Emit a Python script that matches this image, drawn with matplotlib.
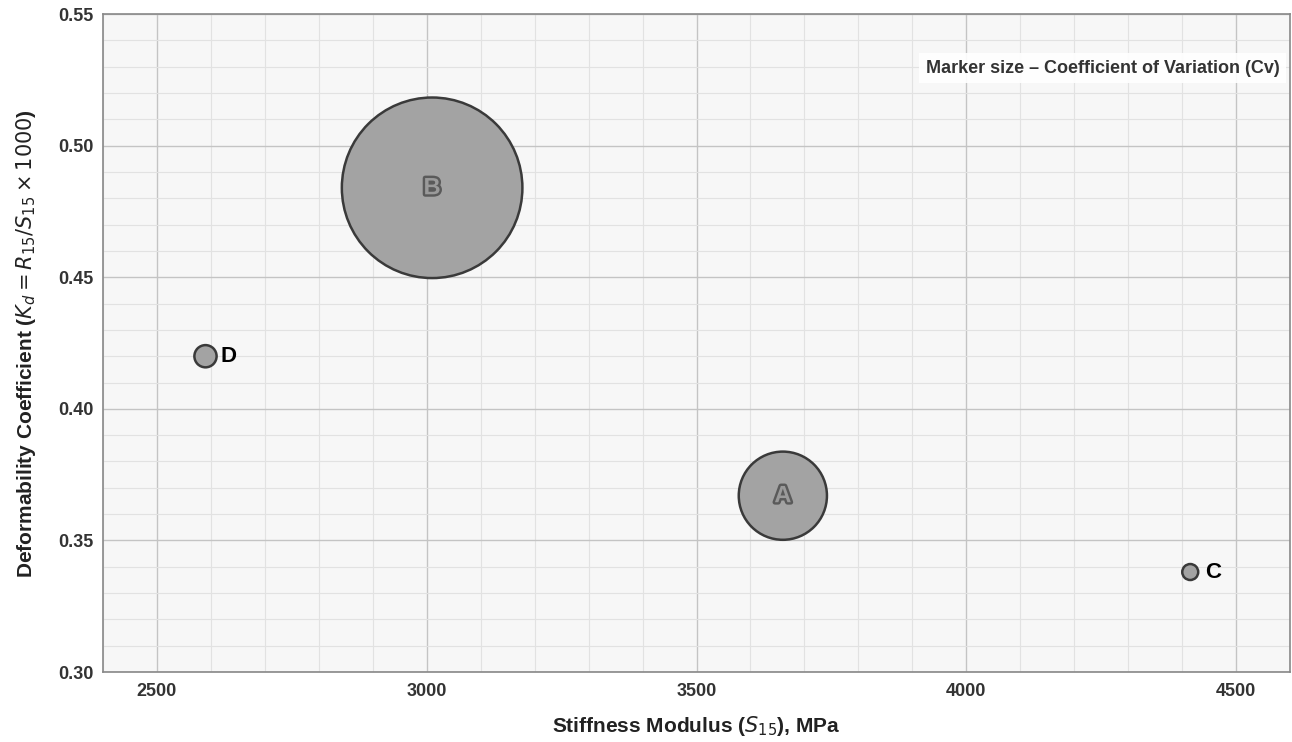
import matplotlib.pyplot as plt
import matplotlib.patheffects as pe
from matplotlib.ticker import MultipleLocator, FormatStrFormatter

plt.rcParams['font.family'] = ['Liberation Sans', 'DejaVu Sans']
plt.rcParams['mathtext.fontset'] = 'dejavusans'

# data
mixes = ['A', 'B', 'C', 'D']
stiffness = [3660, 3010, 4415, 2590]
kd = [0.367, 0.484, 0.338, 0.420]
cv = [12.7, 26.0, 2.3, 3.2]
sizes = [(c * 5) ** 2 for c in cv]

fig = plt.figure(figsize=(12.92, 7.42), dpi=100)
ax = fig.add_axes([0.0797, 0.0943, 0.9188, 0.8867])
ax.set_facecolor('#f7f7f7')

ax.scatter(stiffness, kd, s=sizes, c='#a3a3a3', edgecolors='#3a3a3a',
           linewidths=1.8, zorder=3)

for name, x, y, s in zip(mixes, stiffness, kd, sizes):
    if s > 1000:
        ax.text(x, y, name, ha='center', va='center', fontsize=17, fontweight='bold',
                color='#9a9a9a', zorder=4,
                path_effects=[pe.withStroke(linewidth=3.5, foreground='#5a5a5a')])
    else:
        ax.annotate(name, (x, y), xytext=(11, 0), textcoords='offset points',
                    ha='left', va='center', fontsize=16, fontweight='bold',
                    color='black', zorder=4)

ax.set_xlim(2400, 4600)
ax.set_ylim(0.30, 0.55)
ax.xaxis.set_major_locator(MultipleLocator(500))
ax.xaxis.set_minor_locator(MultipleLocator(100))
ax.yaxis.set_major_locator(MultipleLocator(0.05))
ax.yaxis.set_minor_locator(MultipleLocator(0.01))
ax.yaxis.set_major_formatter(FormatStrFormatter('%.2f'))
ax.grid(which='major', color='#c4c4c4', linewidth=1.0, zorder=0)
ax.grid(which='minor', color='#e2e2e2', linewidth=0.8, zorder=0)
ax.set_axisbelow(True)
ax.tick_params(which='both', length=0)
ax.tick_params(axis='x', pad=8)
ax.tick_params(axis='y', pad=7)
for lab in ax.get_xticklabels() + ax.get_yticklabels():
    lab.set_fontweight('bold')
    lab.set_fontsize(13)
    lab.set_color('#333333')

for sp in ax.spines.values():
    sp.set_color('#888888')
    sp.set_linewidth(1.2)

ax.set_xlabel('Stiffness Modulus ($S_{15}$), MPa', fontsize=15, fontweight='bold',
              color='#222222', labelpad=10)
ax.set_ylabel(r'Deformability Coefficient ($K_d = R_{15}/S_{15} \times 1000$)',
              fontsize=15, fontweight='bold', color='#222222', labelpad=14)

ax.text(0.991, 0.918, 'Marker size – Coefficient of Variation (Cv)',
        transform=ax.transAxes, ha='right', va='center', fontsize=13,
        fontweight='bold', color='#333333',
        bbox=dict(boxstyle='square,pad=0.35', facecolor='white',
                  edgecolor='none', alpha=0.9))

fig.savefig('out.png', dpi=100)
